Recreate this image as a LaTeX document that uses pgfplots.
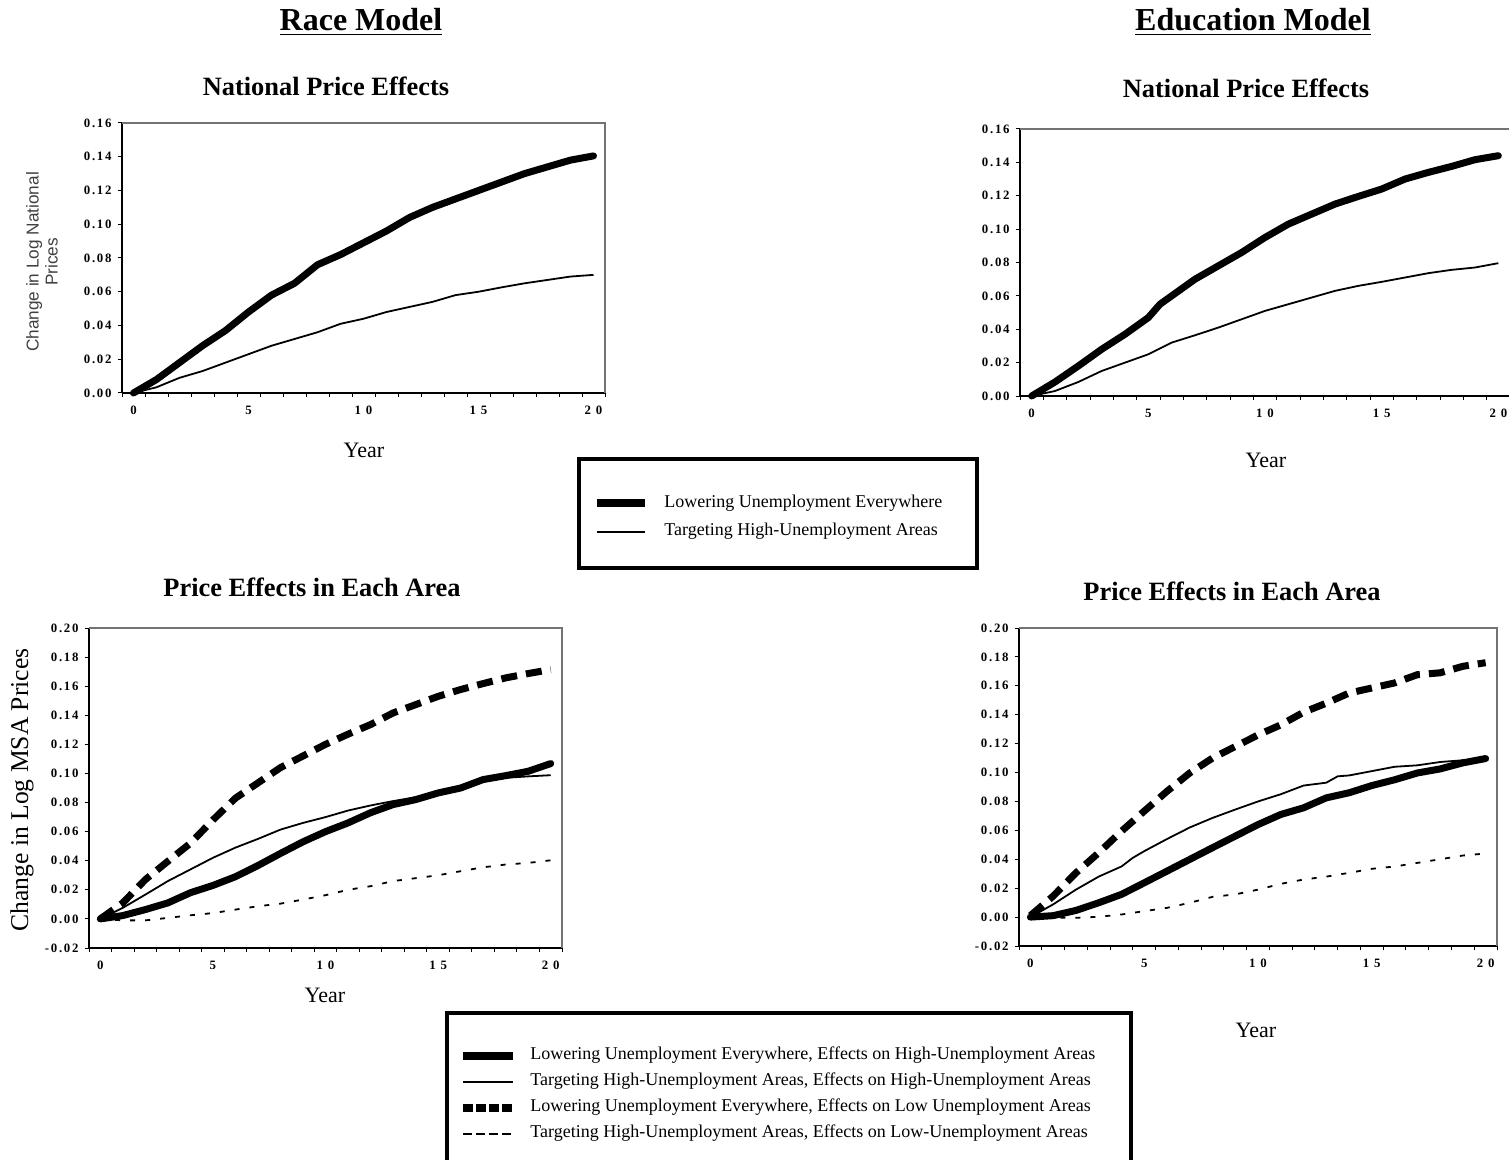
\documentclass[border=0pt]{standalone}
\usepackage{pgfplots}
\pgfplotsset{compat=1.18}
\usepackage{fontspec}
\setmainfont{Liberation Serif}
\newfontfamily\ytickfont{Liberation Serif}[LetterSpace=14]
\newfontfamily\xtickfont{Liberation Serif}[LetterSpace=38]
\newfontfamily\arialfont{Liberation Sans}

\pgfplotsset{
  panel/.style={
    scale only axis,
    xmin=-0.5, xmax=20.5,
    axis x line*=bottom, axis y line*=left,
    axis line style={black, line width=0.6pt, -},
    tick align=outside,
    major tick length=0pt,
    minor tick length=2.2pt,
    every tick/.style={black, line width=0.5pt},
    xtick={0,5,10,15,20},
    xticklabels={0,5,10,15,20},
    minor xtick={-0.5,0.5,...,20.5},
    xticklabel style={font=\xtickfont\bfseries\fontsize{6.4}{7}\selectfont, inner sep=0pt, anchor=north, yshift=-6.5pt},
    yticklabel style={font=\ytickfont\bfseries\fontsize{6.4}{7}\selectfont, inner sep=0pt, anchor=east, xshift=-5pt},
    clip=false,
  },
  natpanel/.style={panel, ymin=0, ymax=0.16,
    ytick={0,0.02,...,0.16}, minor ytick={0,0.02,...,0.16},
    yticklabels={0.00,0.02,0.04,0.06,0.08,0.10,0.12,0.14,0.16}},
  areapanel/.style={panel, ymin=-0.02, ymax=0.20,
    ytick={-0.02,0,0.02,0.04,0.06,0.08,0.10,0.12,0.14,0.16,0.18,0.20},
    minor ytick={-0.02,0,0.02,0.04,0.06,0.08,0.10,0.12,0.14,0.16,0.18,0.20},
    yticklabels={-0.02,0.00,0.02,0.04,0.06,0.08,0.10,0.12,0.14,0.16,0.18,0.20}},
  thickline/.style={black, line width=3.5pt, line cap=round, line join=round},
  thinline/.style={black, line width=0.9pt, line join=round},
  thickdash/.style={black, line width=3.5pt, dash pattern=on 8pt off 4.5pt},
  thindash/.style={black, line width=0.9pt, dash pattern=on 2.5pt off 5pt},
}
\newcommand{\grayframe}{\draw[black!55, line width=0.6pt] (rel axis cs:0,1) -- (rel axis cs:1,1) -- (rel axis cs:1,0);}

\begin{document}
\begin{tikzpicture}
% ---------- Panel 1: Race model, national ----------
\begin{axis}[natpanel, at={(61pt,-196.5pt)}, anchor=south west, width=241.5pt, height=135pt]
\grayframe
\addplot[thickline] coordinates {
(0,0) (1,0.008) (2,0.018) (3,0.028) (4,0.037) (5,0.048) (6,0.058) (7,0.065)
(8,0.076) (9,0.082) (10,0.089) (11,0.096) (12,0.104) (13,0.110) (14,0.115)
(15,0.120) (16,0.125) (17,0.130) (18,0.134) (19,0.138) (20,0.1405)};
\addplot[thinline] coordinates {
(0,0) (1,0.0034) (2,0.009) (3,0.013) (4,0.018) (5,0.023) (6,0.028) (7,0.032)
(8,0.036) (9,0.041) (10,0.044) (11,0.048) (12,0.051) (13,0.054) (14,0.058)
(15,0.060) (16,0.0626) (17,0.065) (18,0.067) (19,0.069) (20,0.070)};
\end{axis}
% ---------- Panel 2: Education model, national ----------
\begin{axis}[natpanel, at={(510pt,-198pt)}, anchor=south west, width=245pt, height=133.5pt]
\grayframe
\addplot[thickline] coordinates {
(0,0) (1,0.0084) (2,0.018) (3,0.028) (4,0.037) (5,0.047) (5.5,0.055) (6,0.060)
(7,0.070) (8,0.078) (9,0.086) (10,0.095) (11,0.103) (12,0.109) (13,0.115)
(14,0.1196) (15,0.124) (16,0.130) (17,0.134) (18,0.1376) (19,0.1416) (20,0.144)};
\addplot[thinline] coordinates {
(0,0) (1,0.003) (2,0.0084) (3,0.015) (4,0.020) (5,0.025) (6,0.032) (7,0.0364)
(8,0.041) (9,0.046) (10,0.051) (11,0.055) (12,0.059) (13,0.063) (14,0.066)
(15,0.0684) (16,0.071) (17,0.0736) (18,0.0756) (19,0.077) (20,0.0796)};
\end{axis}
% ---------- Panel 3: Race model, each area ----------
\begin{axis}[areapanel, at={(44.5pt,-474pt)}, anchor=south west, width=236.5pt, height=160pt]
\grayframe
\addplot[thickdash] coordinates {
(0,0) (1,0.011) (2,0.027) (3,0.0396) (4,0.052) (5,0.068) (6,0.083) (7,0.0935)
(8,0.104) (9,0.112) (10,0.120) (11,0.127) (12,0.1336) (13,0.1416) (14,0.1473)
(15,0.153) (16,0.1577) (17,0.1618) (18,0.1657) (19,0.1687) (20,0.1714)};
\addplot[thindash] coordinates {
(0,0) (1,-0.001) (2,-0.001) (3,0.0007) (4,0.0025) (5,0.004) (6,0.0064) (7,0.0087)
(8,0.0105) (9,0.0133) (10,0.0163) (11,0.020) (12,0.0225) (13,0.026) (14,0.028)
(15,0.030) (16,0.0328) (17,0.0355) (18,0.0374) (19,0.0385) (20,0.0403)};
\addplot[thinline] coordinates {
(0,0) (1,0.0076) (2,0.0167) (3,0.026) (4,0.034) (5,0.042) (6,0.049) (7,0.055)
(8,0.0614) (9,0.066) (10,0.070) (11,0.0745) (12,0.078) (13,0.081) (14,0.0836)
(15,0.0873) (16,0.090) (17,0.0946) (18,0.097) (19,0.098) (20,0.0988)};
\addplot[thickline] coordinates {
(0,0) (1,0.0023) (2,0.0064) (3,0.011) (4,0.018) (5,0.023) (6,0.029) (7,0.0367)
(8,0.045) (9,0.053) (10,0.060) (11,0.066) (12,0.073) (13,0.0786) (14,0.082)
(15,0.0866) (16,0.090) (17,0.0958) (18,0.0985) (19,0.1015) (20,0.1068)};
\end{axis}
% ---------- Panel 4: Education model, each area ----------
\begin{axis}[areapanel, at={(509.5pt,-473pt)}, anchor=south west, width=239pt, height=159pt]
\grayframe
\addplot[thickdash] coordinates {
(0,0.001) (1,0.0145) (2,0.0306) (3,0.0445) (4,0.0594) (5,0.0733) (6,0.087) (7,0.0997)
(8,0.110) (9,0.118) (10,0.126) (11,0.133) (12,0.1417) (13,0.148) (14,0.155)
(15,0.1585) (16,0.162) (17,0.1677) (18,0.169) (19,0.1735) (20,0.176)};
\addplot[thindash] coordinates {
(0,0) (1,-0.0005) (2,-0.0005) (3,0.0002) (4,0.0018) (5,0.0041) (6,0.0064) (7,0.0099)
(8,0.014) (9,0.0157) (10,0.019) (11,0.023) (12,0.026) (13,0.028) (14,0.0306)
(15,0.0334) (16,0.035) (17,0.0375) (18,0.040) (19,0.0426) (20,0.044)};
\addplot[thinline] coordinates {
(0,0) (1,0.0088) (2,0.019) (3,0.028) (4,0.035) (4.5,0.041) (5,0.0456) (6,0.054)
(7,0.062) (8,0.0686) (9,0.0744) (10,0.080) (11,0.085) (12,0.091) (13,0.093)
(13.5,0.0974) (14,0.098) (15,0.101) (16,0.104) (17,0.105) (18,0.1073) (19,0.1085) (20,0.1097)};
\addplot[thickline] coordinates {
(0,0) (1,0.001) (2,0.0046) (3,0.0099) (4,0.0157) (5,0.0237) (6,0.0318) (7,0.0399)
(8,0.048) (9,0.056) (10,0.064) (11,0.071) (12,0.0756) (13,0.0825) (14,0.086)
(15,0.091) (16,0.095) (17,0.0997) (18,0.1025) (19,0.1067) (20,0.1097)};
\end{axis}
% ---------- Text and legends (pixel units) ----------
\begin{scope}[x=0.5pt, y=-0.5pt]
\node[font=\bfseries\fontsize{16}{18}\selectfont] at (361,22) {\underline{Race Model}};
\node[font=\bfseries\fontsize{16}{18}\selectfont] at (1253,22) {\underline{Education Model}};
\node[font=\bfseries\fontsize{13.2}{15}\selectfont] at (326,86) {National Price Effects};
\node[font=\bfseries\fontsize{13.2}{15}\selectfont] at (1246,88) {National Price Effects};
\node[font=\bfseries\fontsize{13.2}{15}\selectfont] at (312,587) {Price Effects in Each Area};
\node[font=\bfseries\fontsize{13.2}{15}\selectfont] at (1232,591) {Price Effects in Each Area};
\node[font=\fontsize{11}{13}\selectfont] at (364,450) {Year};
\node[font=\fontsize{11}{13}\selectfont] at (1266,460) {Year};
\node[font=\fontsize{11}{13}\selectfont] at (325,995) {Year};
\node[font=\fontsize{11}{13}\selectfont] at (1256,1030) {Year};
\node[rotate=90, align=center, text=black!75, font=\arialfont\fontsize{8.6}{9.6}\selectfont] at (42,262) {Change in Log National\\Prices};
\node[rotate=90, font=\fontsize{12.8}{14}\selectfont] at (22,790) {Change in Log MSA Prices};
% legend 1
\draw[line width=2pt] (579,459) rectangle (977,568);
\draw[line width=4pt] (597,503) -- (645,503);
\node[anchor=west, inner sep=0pt, font=\fontsize{9}{10}\selectfont] at (664,503) {Lowering Unemployment Everywhere};
\draw[line width=1.3pt] (597,532) -- (645,532);
\node[anchor=west, inner sep=0pt, font=\fontsize{9}{10}\selectfont] at (664,531) {Targeting High-Unemployment Areas};
% legend 2
\draw[line width=2pt] (447,1180) -- (447,1013) -- (1131,1013) -- (1131,1180);
\draw[line width=4pt] (463,1056) -- (513,1056);
\node[anchor=west, inner sep=0pt, font=\fontsize{9}{10}\selectfont] at (530,1055) {Lowering Unemployment Everywhere, Effects on High-Unemployment Areas};
\draw[line width=1.3pt] (463,1082) -- (513,1082);
\node[anchor=west, inner sep=0pt, font=\fontsize{9}{10}\selectfont] at (530,1081) {Targeting High-Unemployment Areas, Effects on High-Unemployment Areas};
\draw[line width=4pt, dash pattern=on 5pt off 1.5pt] (463,1108) -- (513,1108);
\node[anchor=west, inner sep=0pt, font=\fontsize{9}{10}\selectfont] at (530,1107) {Lowering Unemployment Everywhere, Effects on Low Unemployment Areas};
\draw[line width=1pt, dash pattern=on 4.5pt off 2pt] (463,1134) -- (513,1134);
\node[anchor=west, inner sep=0pt, font=\fontsize{9}{10}\selectfont] at (530,1133) {Targeting High-Unemployment Areas, Effects on Low-Unemployment Areas};
\pgfresetboundingbox
\path (0,0) rectangle (1509,1160);
\end{scope}
\end{tikzpicture}
\end{document}
